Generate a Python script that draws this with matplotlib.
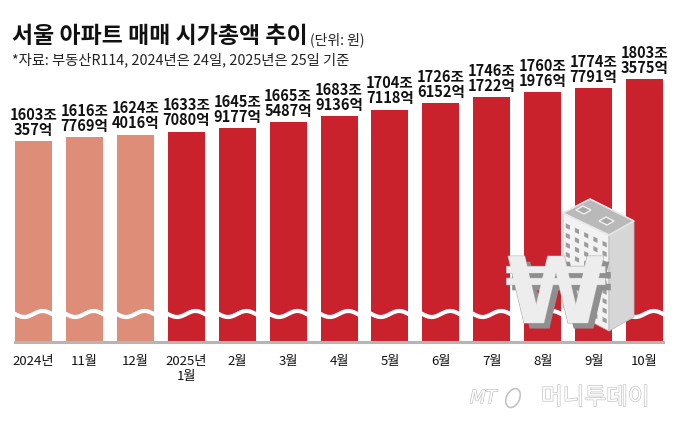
import numpy as np
import matplotlib
matplotlib.use("Agg")
import matplotlib.pyplot as plt
import matplotlib.patheffects as pe
import matplotlib.transforms as mtransforms
from matplotlib.patches import Polygon, Ellipse

plt.rcParams["font.family"] = ["Noto Sans CJK KR", "DejaVu Sans"]
NARROW = ["Liberation Sans Narrow", "Noto Sans CJK KR", "DejaVu Sans"]

# ── data: Seoul apartment market cap (조 + 억 원) ──────────────────
months = ["2024년", "11월", "12월", "2025년\n1월", "2월", "3월", "4월",
          "5월", "6월", "7월", "8월", "9월", "10월"]
jo  = [1603, 1616, 1624, 1633, 1645, 1665, 1683, 1704, 1726, 1746, 1760, 1774, 1803]
eok = [357, 7769, 4016, 7080, 9177, 5487, 9136, 7118, 6152, 1722, 1976, 7791, 3575]
year_2024 = [True, True, True] + [False] * 10

values = [j + e / 10000 for j, e in zip(jo, eok)]
C_2024 = "#DE8E78"
C_2025 = "#C9222D"
colors = [C_2024 if y else C_2025 for y in year_2024]

W, H = 683, 427
fig = plt.figure(figsize=(W / 100, H / 100), dpi=100)
fig.patch.set_facecolor("white")

# axes: baseline at y=343px, top at y=60px (broken axis, bars start at 955)
base_px, top_px = 343, 60
ax = fig.add_axes([0, (H - base_px) / H, 1, (base_px - top_px) / H])
ax.set_xlim(-0.658, 12.755)
ax.set_ylim(955, 1868)
for s in ax.spines.values():
    s.set_visible(False)
ax.set_yticks([])

x = np.arange(len(values))
bw = 0.727
ax.bar(x, values, width=bw, bottom=0, color=colors, zorder=2)

# value labels
for xi, v, j, e in zip(x, values, jo, eok):
    ax.annotate(f"{j}조\n{e}억", (xi, v), xytext=(0, 3), textcoords="offset points",
                ha="center", va="bottom", fontsize=10.5, fontweight="bold",
                family=NARROW, linespacing=0.92, color="#111111", zorder=4)

# wavy break line across each bar
trans = mtransforms.blended_transform_factory(ax.transData, ax.transAxes)
t = np.linspace(-0.05, 1.05, 80)
yc = (base_px - 315) / (base_px - top_px)
amp = 3 / (base_px - top_px)
for xi in x:
    xs = xi - bw / 2 + t * bw
    ys = yc - amp * np.sin(2 * np.pi * t)
    ax.plot(xs, ys, transform=trans, color="white", lw=3.0, zorder=3,
            solid_capstyle="butt")

# grey base shadow
ax.plot([x[0] - bw / 2, x[-1] + bw / 2], [0, 0], transform=trans, color="#B5B5B5",
        lw=2.2, clip_on=False, zorder=3)

ax.set_xticks(x, months)
ax.tick_params(axis="x", length=0, pad=9, labelsize=9.5, labelcolor="#111111")

# ── titles ─────────────────────────────────────────────────────────
title = fig.text(12 / W, 1 - 25 / H, "서울 아파트 매매 시가총액 추이", fontsize=16.5,
                 fontweight="heavy", va="top", ha="left", color="#111111")
fig.canvas.draw()
bb = title.get_window_extent()
fig.text((bb.x1 + 2) / W, 1 - 32 / H, "(단위: 원)", fontsize=10, va="top",
         ha="left", color="#222222")
fig.text(12 / W, 1 - 53 / H, "*자료: 부동산R114, 2024년은 24일, 2025년은 25일 기준",
         fontsize=10.3, va="top", ha="left", color="#222222")

# ── illustration: building + won sign (pixel coords) ──────────────
ident = mtransforms.IdentityTransform()


def P(pts):
    return [(px, H - py) for px, py in pts]


A, B, Cc, D = (563, 214), (590, 200), (634, 222), (609, 236)
fig.patches.append(Polygon(P([A, D, (609, 332), (563, 308)]), closed=True,
                           facecolor="#F2F2F2", edgecolor="#BDBDBD", lw=0.6,
                           transform=ident, zorder=5))
fig.patches.append(Polygon(P([D, Cc, (634, 318), (609, 332)]), closed=True,
                           facecolor="#D6D6D6", edgecolor="#BDBDBD", lw=0.6,
                           transform=ident, zorder=5))
fig.patches.append(Polygon(P([A, B, Cc, D]), closed=True, facecolor="#B9B9B9",
                           edgecolor="#E8E8E8", lw=1.2, transform=ident, zorder=5))
for cx, cy in [(583, 211), (606, 222)]:
    fig.patches.append(Polygon(P([(cx - 7, cy), (cx, cy - 4), (cx + 8, cy),
                                  (cx + 1, cy + 4)]), closed=True,
                               facecolor="#A9A9A9", edgecolor="#F0F0F0", lw=1.0,
                               transform=ident, zorder=6))
e1 = np.array([46, 22]) / 5.0
for col in range(5):
    for row in range(9):
        o = np.array(A) + e1 * (col + 0.3) + np.array([0, 9 + row * 9.5])
        win = [tuple(o), tuple(o + e1 * 0.45), tuple(o + e1 * 0.45 + [0, 4.5]),
               tuple(o + [0, 4.5])]
        fig.patches.append(Polygon(P(win), closed=True, facecolor="#9C9C9C",
                                   edgecolor="none", transform=ident, zorder=6))

won = fig.text(556 / W, 1 - 298 / H, "₩", fontsize=66, fontweight="bold",
               family=["DejaVu Sans"], ha="center", va="center",
               color="#EDEDED", zorder=7,
               path_effects=[pe.withSimplePatchShadow(offset=(4, -4),
                                                      shadow_rgbFace="#8F8F8F",
                                                      alpha=1.0),
                             pe.withStroke(linewidth=0.8, foreground="#A8A8A8")])

# ── watermark ──────────────────────────────────────────────────────
wm = [pe.withStroke(linewidth=1.0, foreground="#C4C4C4")]
fig.text(470 / W, 1 - 399 / H, "MT", fontsize=13, style="italic", family=["DejaVu Sans"],
         color="white", va="center", ha="left", path_effects=wm)
fig.patches.append(Ellipse((513, H - 399), 13, 20, angle=-25, facecolor="none",
                           edgecolor="#C4C4C4", lw=1.2, transform=ident, zorder=5))
fig.text(541 / W, 1 - 399 / H, "머니투데이", fontsize=17, color="white",
         va="center", ha="left", path_effects=wm)

fig.savefig("out.png", dpi=100)
